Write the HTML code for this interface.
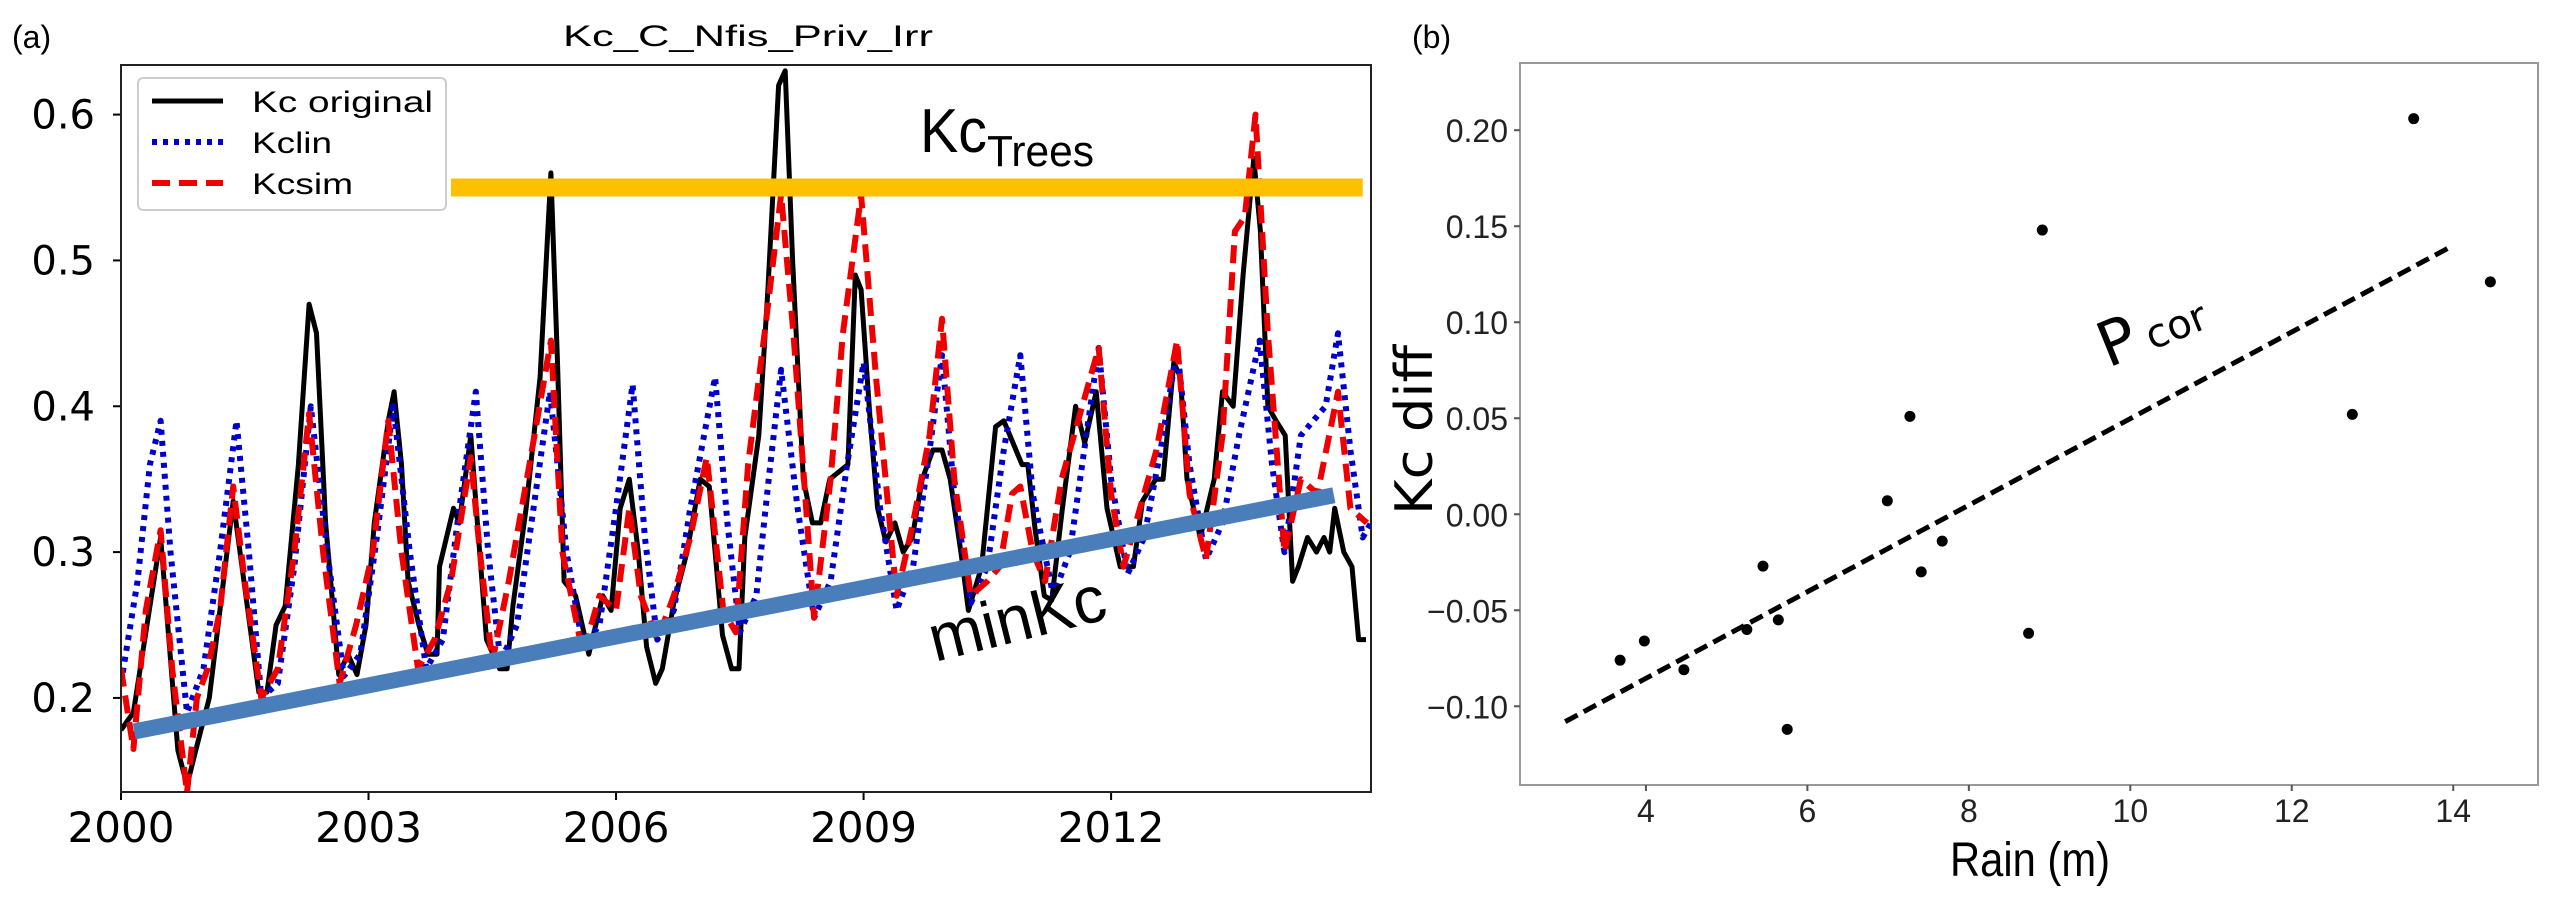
<!DOCTYPE html>
<html><head><meta charset="utf-8"><style>
html,body{margin:0;padding:0;background:#fff;}
svg{display:block;}
text{font-family:"DejaVu Sans","Liberation Sans",sans-serif;}
.narrow{font-family:"Liberation Sans Narrow","Liberation Sans",sans-serif;}
</style></head><body>
<svg id="fig" width="2555" height="904" viewBox="0 0 2555 904" xmlns="http://www.w3.org/2000/svg">
<defs>
<clipPath id="clipA"><rect x="121" y="65" width="1250" height="727"/></clipPath>
</defs>
<text x="12" y="48" font-size="32" class="narrow">(a)</text>
<text x="748" y="46" font-size="30" text-anchor="middle" class="narrow" textLength="370" lengthAdjust="spacingAndGlyphs">Kc_C_Nfis_Priv_Irr</text>
<g id="axA"></g>
<text x="1412" y="48" font-size="32" class="narrow">(b)</text>
<g id="axB"></g>
</svg>
<script>
// ---------- Panel (a) data ----------
const aYTicks = [0.2, 0.3, 0.4, 0.5, 0.6];
const aYTickLabels = ["0.2", "0.3", "0.4", "0.5", "0.6"];
const aXTicks = [2000, 2003, 2006, 2009, 2012];
const aXTickLabels = ["2000", "2003", "2006", "2009", "2012"];
// time offsets (years after 2000) and Kc values
const kcOrigT = [0,.15,.48,.69,.80,.91,1.07,1.36,1.67,1.77,1.88,1.99,2.15,2.28,2.37,2.48,2.64,2.75,2.86,2.97,3.07,3.24,3.31,3.40,3.48,3.61,3.72,3.83,3.86,4.03,4.10,4.24,4.32,4.43,4.59,4.68,4.75,4.91,5.08,5.21,5.29,5.37,5.51,5.67,5.84,5.94,6.05,6.16,6.27,6.37,6.48,6.56,6.70,6.86,7.02,7.13,7.29,7.40,7.49,7.56,7.73,7.84,7.97,8.05,8.14,8.27,8.38,8.48,8.59,8.70,8.81,8.90,8.97,9.08,9.17,9.27,9.38,9.48,9.59,9.71,9.84,9.95,10.05,10.18,10.27,10.43,10.60,10.70,10.92,10.99,11.08,11.19,11.28,11.41,11.57,11.68,11.82,11.95,12.11,12.27,12.38,12.54,12.63,12.76,12.84,12.92,13.08,13.25,13.35,13.48,13.60,13.73,13.81,13.90,14.00,14.11,14.20,14.27,14.38,14.49,14.58,14.65,14.71,14.82,14.92,15.00,15.09];
const kcOrigV = [.178,.19,.31,.164,.14,.165,.2,.335,.204,.204,.25,.263,.36,.47,.45,.32,.216,.23,.216,.25,.32,.39,.41,.36,.28,.25,.23,.23,.29,.33,.32,.38,.32,.24,.22,.22,.263,.33,.42,.56,.43,.28,.27,.23,.27,.26,.33,.35,.30,.235,.21,.22,.265,.30,.35,.345,.243,.22,.22,.31,.38,.48,.62,.63,.5,.35,.32,.32,.35,.355,.36,.49,.48,.39,.33,.307,.32,.30,.31,.35,.37,.37,.35,.30,.26,.29,.386,.39,.36,.36,.315,.27,.267,.33,.40,.375,.41,.33,.29,.29,.335,.35,.35,.43,.42,.35,.31,.35,.41,.40,.49,.57,.52,.40,.39,.38,.28,.29,.31,.30,.31,.30,.33,.30,.29,.24,.24];
const kclinT = [0,.2,.35,.48,.6,.8,1.0,1.2,1.4,1.55,1.7,1.9,2.1,2.3,2.5,2.7,2.9,3.1,3.3,3.5,3.7,3.9,4.1,4.3,4.45,4.6,4.8,5.0,5.2,5.4,5.6,5.8,6.0,6.2,6.35,6.5,6.7,6.9,7.2,7.35,7.5,7.7,7.85,8.0,8.2,8.4,8.6,8.8,9.0,9.2,9.4,9.6,9.8,9.95,10.1,10.3,10.5,10.7,10.9,11.05,11.3,11.5,11.7,11.85,12.0,12.2,12.4,12.6,12.8,12.95,13.15,13.35,13.55,13.8,13.95,14.1,14.3,14.45,14.6,14.75,14.9,15.05,15.15];
const kclinV = [.21,.28,.36,.39,.3,.19,.22,.3,.39,.3,.2,.21,.29,.40,.3,.215,.23,.31,.40,.3,.22,.24,.33,.41,.3,.225,.25,.33,.41,.3,.235,.25,.33,.415,.31,.24,.26,.33,.42,.32,.245,.27,.35,.425,.33,.255,.28,.36,.43,.33,.26,.29,.37,.435,.34,.265,.29,.37,.435,.34,.27,.30,.38,.44,.35,.285,.31,.37,.44,.36,.295,.32,.38,.445,.36,.30,.38,.39,.40,.45,.37,.31,.32];
const kcsimT = [0,.15,.3,.48,.62,.8,.92,1.05,1.2,1.36,1.5,1.7,1.9,2.1,2.28,2.45,2.65,2.85,3.05,3.24,3.4,3.6,3.8,4.0,4.24,4.35,4.5,4.7,4.95,5.21,5.35,5.6,5.8,6.0,6.16,6.3,6.5,6.7,6.9,7.1,7.3,7.45,7.6,7.8,8.0,8.15,8.4,8.6,8.75,8.97,9.15,9.4,9.6,9.8,9.95,10.1,10.3,10.5,10.65,10.8,10.9,11.05,11.2,11.4,11.6,11.85,12.0,12.15,12.35,12.55,12.8,12.95,13.15,13.35,13.5,13.62,13.75,13.9,14.1,14.3,14.5,14.75,14.9,15.1];
const kcsimV = [.22,.165,.26,.315,.22,.135,.2,.22,.26,.345,.28,.2,.22,.30,.395,.3,.21,.25,.3,.39,.3,.22,.24,.28,.365,.3,.225,.28,.36,.445,.3,.23,.27,.26,.33,.27,.24,.27,.31,.365,.26,.245,.36,.45,.545,.45,.255,.35,.45,.545,.42,.27,.32,.38,.46,.35,.27,.28,.29,.34,.345,.3,.28,.35,.39,.44,.34,.29,.33,.37,.445,.34,.295,.38,.52,.53,.60,.45,.30,.35,.34,.41,.33,.32];
const kcTreesValue = [0.55];
const kcTreesYears = [2004.0, 2015.05];
const minKcYears = [2000.16, 2014.7];
const minKcValues = [0.177, 0.339];

// ---------- Panel (b) data ----------
const rain = [3.68,3.98,4.47,5.25,5.45,5.64,5.75,6.99,7.27,7.41,7.67,8.74,8.91,12.75,13.51,14.46];
const kcDiff = [-0.076,-0.066,-0.081,-0.060,-0.027,-0.055,-0.112,0.007,0.051,-0.030,-0.014,-0.062,0.148,0.052,0.206,0.121];
const fitX = [3, 14];
const fitY = [-0.108, 0.140];
const bXTicks = [4, 6, 8, 10, 12, 14];
const bXTickLabels = ["4", "6", "8", "10", "12", "14"];
const bYTicks = [-0.10, -0.05, 0.00, 0.05, 0.10, 0.15, 0.20];
const bYTickLabels = ["\u22120.10", "\u22120.05", "0.00", "0.05", "0.10", "0.15", "0.20"];

const NS = "http://www.w3.org/2000/svg";
function mk(parent, tag, attrs, txt) {
  const e = document.createElementNS(NS, tag);
  for (const k in attrs) e.setAttribute(k, attrs[k]);
  if (txt !== undefined) e.textContent = txt;
  parent.appendChild(e);
  return e;
}

// ---------- Panel (a) ----------
const A = {l:121, r:1371, t:65, b:792, x0:2000, x1:2015.15, y0:0.1355, y1:0.634};
const ax = v => A.l + (v - A.x0) / (A.x1 - A.x0) * (A.r - A.l);
const ay = v => A.b - (v - A.y0) / (A.y1 - A.y0) * (A.b - A.t);
const gA = document.getElementById('axA');

aYTicks.forEach((v, i) => {
  const tk = mk(gA, 'line', {x1:A.l-8, x2:A.l, y1:ay(v), y2:ay(v), stroke:'#000', 'stroke-width':2});
  
  
  const lb = mk(gA, 'text', {x:A.l-26, y:ay(v)+14, 'font-size':40, 'text-anchor':'end'}, aYTickLabels[i]);
  
  
});
aXTicks.forEach((v, i) => {
  const tk = mk(gA, 'line', {x1:ax(v), x2:ax(v), y1:A.b, y2:A.b+8, stroke:'#000', 'stroke-width':2});
  
  
  const lb = mk(gA, 'text', {x:ax(v), y:842, 'font-size':42, 'text-anchor':'middle'}, aXTickLabels[i]);
  
  
});

const plotA = mk(gA, 'g', {'clip-path':'url(#clipA)'});


function series(T, V, attrs, name) {
  const d = T.map((t, i) => (i ? 'L' : 'M') + ax(2000 + t).toFixed(1) + ' ' + ay(V[i]).toFixed(1)).join(' ');
  const p = mk(plotA, 'path', Object.assign({d:d, fill:'none', 'stroke-linejoin':'round'}, attrs));
  
  
}
series(kcOrigT, kcOrigV, {stroke:'#000', 'stroke-width':5}, 'kc-original-line');
series(kclinT, kclinV, {stroke:'#0000cc', 'stroke-width':6, 'stroke-dasharray':'5 6'}, 'kclin-line');
series(kcsimT, kcsimV, {stroke:'#ee0000', 'stroke-width':6, 'stroke-dasharray':'18 9'}, 'kcsim-line');

const frameA = mk(gA, 'rect', {x:A.l, y:A.t, width:A.r-A.l, height:A.b-A.t, fill:'none', stroke:'#222', 'stroke-width':2});



// legend
const leg = mk(gA, 'g', {});


mk(leg, 'rect', {x:138, y:78, width:308, height:132, rx:5, fill:'#fff', stroke:'#ccc', 'stroke-width':2});
const legItems = [['Kc original', '#000', 5, '', 181], ['Kclin', '#0000cc', 6, '5 6', 80], ['Kcsim', '#ee0000', 6, '18 9', 101]];
legItems.forEach((it, i) => {
  const y = 101 + i * 41;
  const ent = mk(leg, 'g', {});
  
  
  const ln = mk(ent, 'line', {x1:152, x2:223, y1:y, y2:y, stroke:it[1], 'stroke-width':it[2]});
  if (it[3]) ln.setAttribute('stroke-dasharray', it[3]);
  mk(ent, 'text', {x:252, y:y+11, 'font-size':30, class:'narrow', textLength:it[4], lengthAdjust:'spacingAndGlyphs'}, it[0]);
});

// annotations
const tree = mk(gA, 'line', {x1:ax(kcTreesYears[0]), x2:ax(kcTreesYears[1]), y1:ay(kcTreesValue[0]), y2:ay(kcTreesValue[0]), stroke:'#ffc000', 'stroke-width':18});


const treeLbl = mk(gA, 'text', {x:920, y:152, 'font-size':62, class:'narrow'});


treeLbl.innerHTML = '<tspan textLength="67" lengthAdjust="spacingAndGlyphs">Kc</tspan><tspan font-size="44" dy="14" textLength="107" lengthAdjust="spacingAndGlyphs">Trees</tspan>';
const mink = mk(gA, 'line', {x1:ax(minKcYears[0]), x2:ax(minKcYears[1]), y1:ay(minKcValues[0]), y2:ay(minKcValues[1]), stroke:'#4a7ebb', 'stroke-width':16});


const minLbl = mk(gA, 'text', {x:935, y:662, 'font-size':66, class:'narrow', transform:'rotate(-14 935 662)', textLength:180, lengthAdjust:'spacingAndGlyphs'}, 'minKc');



// ---------- Panel (b) ----------
const B = {l:1520, r:2538, t:63, b:785, x0:2.44, x1:15.05, y0:-0.141, y1:0.235};
const bx = v => B.l + (v - B.x0) / (B.x1 - B.x0) * (B.r - B.l);
const by = v => B.b - (v - B.y0) / (B.y1 - B.y0) * (B.b - B.t);
const gB = document.getElementById('axB');
const frameB = mk(gB, 'rect', {x:B.l, y:B.t, width:B.r-B.l, height:B.b-B.t, fill:'none', stroke:'#999', 'stroke-width':2});


bXTicks.forEach((v, i) => {
  const tk = mk(gB, 'line', {x1:bx(v), x2:bx(v), y1:B.b, y2:B.b+6, stroke:'#555', 'stroke-width':2});
  
  
  const lb = mk(gB, 'text', {x:bx(v), y:822, 'font-size':32, 'text-anchor':'middle', class:'narrow', fill:'#222'}, bXTickLabels[i]);
  
  
});
bYTicks.forEach((v, i) => {
  const tk = mk(gB, 'line', {x1:B.l-6, x2:B.l, y1:by(v), y2:by(v), stroke:'#555', 'stroke-width':2});
  
  
  const lb = mk(gB, 'text', {x:B.l-12, y:by(v)+12, 'font-size':32, 'text-anchor':'end', class:'narrow', fill:'#222'}, bYTickLabels[i]);
  
  
});
const fit = mk(gB, 'line', {x1:bx(fitX[0]), y1:by(fitY[0]), x2:bx(fitX[1]), y2:by(fitY[1]), stroke:'#000', 'stroke-width':5, 'stroke-dasharray':'14 7'});


rain.forEach((r, i) => {
  const c = mk(gB, 'circle', {cx:bx(r), cy:by(kcDiff[i]), r:5.5, fill:'#000'});
  
  
});
const pc = mk(gB, 'text', {x:2108, y:368, 'font-size':62, transform:'rotate(-22 2108 368)'});


pc.innerHTML = 'P<tspan font-size="40" dx="10">cor</tspan>';
const xl = mk(gB, 'text', {x:2030, y:876, 'font-size':48, 'text-anchor':'middle', class:'narrow', textLength:160, lengthAdjust:'spacingAndGlyphs'}, 'Rain (m)');


const yl = mk(gB, 'text', {x:1432, y:430, 'font-size':52, 'text-anchor':'middle', transform:'rotate(-90 1432 430)', textLength:170, lengthAdjust:'spacingAndGlyphs'}, 'Kc diff');


</script>
</body></html>
